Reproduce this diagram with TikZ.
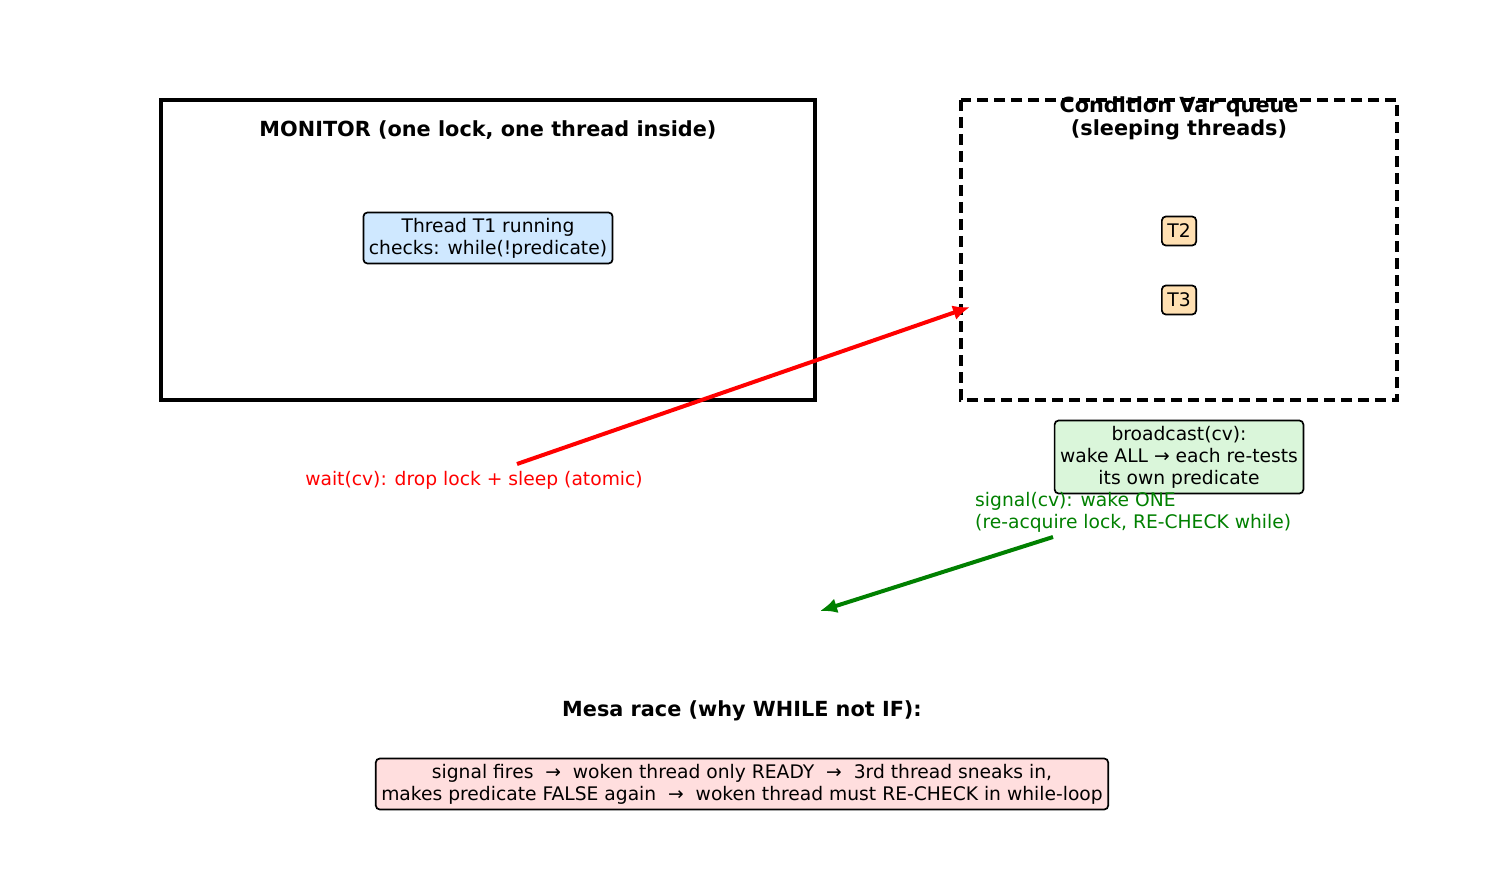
\documentclass[tikz,border=0pt]{standalone}
\usepackage{fontspec}
\setmainfont{DejaVu Sans}
\usetikzlibrary{arrows.meta}
\definecolor{tblue}{RGB}{207,232,255}
\definecolor{tpeach}{RGB}{255,224,178}
\definecolor{tgreen}{RGB}{218,246,218}
\definecolor{tpink}{RGB}{255,222,222}
\definecolor{mgreen}{RGB}{0,128,0}
\tikzset{
  txt/.style={font=\fontsize{18.7}{22}\selectfont, align=center, inner sep=0pt},
  btxt/.style={font=\fontsize{20.8}{23}\selectfont\bfseries, align=center, inner sep=0pt},
  rbox/.style={draw=black, line width=1.7pt, rounded corners=4pt, align=center,
    font=\fontsize{18.7}{22}\selectfont, inner xsep=5.5pt, inner ysep=4pt},
  arr/.style={line width=4pt, -{Latex[length=17pt,width=15pt]}},
}
\begin{document}
\begin{tikzpicture}[x=1pt,y=-1pt]
\useasboundingbox (0,0) rectangle (1485,885);
% monitor
\draw[line width=4pt] (161,100) rectangle (815,400);
\node[btxt] (montitle) at (488,130) {MONITOR (one lock, one thread inside)};
\node[rbox, fill=tblue, minimum height=51pt] (t1) at (488,238)
  {Thread T1 running\\checks: while(!predicate)};
% condition var queue
\draw[line width=4pt, dash pattern=on 11pt off 6pt] (961,100) rectangle (1397,400);
\node[btxt] (cvtitle) at (1179,118.5) {Condition Var queue\\(sleeping threads)};
\node[rbox, fill=tpeach, minimum height=29pt] (t2) at (1179,231) {T2};
\node[rbox, fill=tpeach, minimum height=29pt] (t3) at (1179,300) {T3};
\node[rbox, fill=tgreen, minimum height=73pt] (bc) at (1179,457)
  {broadcast(cv):\\wake ALL → each re-tests\\its own predicate};
% wait arrow
\node[txt, text=red] (waitlbl) at (474,480) {wait(cv): drop lock + sleep (atomic)};
\coordinate (wa) at (517,464);
\coordinate (wb) at (970,307);
\draw[arr, red] (wa) -- (wb);
% signal
\node[txt, text=mgreen, align=left, anchor=west] (siglbl) at (975,512)
  {signal(cv): wake ONE\\(re-acquire lock, RE-CHECK while)};
\coordinate (sa) at (1053,537);
\coordinate (sb) at (820,611);
\draw[arr, mgreen] (sa) -- (sb);
% mesa race
\node[btxt] (mesa) at (742,711) {Mesa race (why WHILE not IF):};
\node[rbox, fill=tpink, minimum height=51pt] (race) at (742,784)
  {signal fires \ → \ woken thread only READY \ → \ 3rd thread sneaks in,\\makes predicate FALSE again \ → \ woken thread must RE-CHECK in while-loop};
\end{tikzpicture}
\end{document}
